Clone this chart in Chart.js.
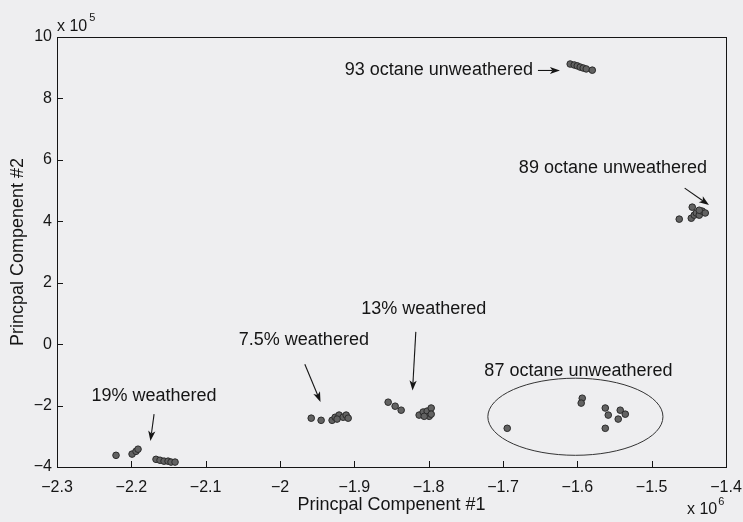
<!DOCTYPE html>
<html>
<head>
<meta charset="utf-8">
<script src="https://cdn.jsdelivr.net/npm/chart.js@4/dist/chart.umd.min.js"></script>
<style>
  html, body { margin: 0; padding: 0; background: #eeeef0; }
  canvas { display: block; }
</style>
</head>
<body>
<canvas id="pca" width="743" height="522"></canvas>
<script>
// Principal component scores: PC1 in units of 1e6, PC2 in units of 1e5
const pc1Weathered19 = [-2.2206, -2.1990, -2.1937, -2.1910, -2.1668, -2.1614, -2.1560, -2.1506, -2.1466, -2.1412];
const pc2Weathered19 = [-3.62, -3.58, -3.49, -3.42, -3.75, -3.78, -3.81, -3.81, -3.84, -3.84];

const pc1Weathered75 = [-1.9580, -1.9447, -1.9299, -1.9258, -1.9205, -1.9151, -1.9110, -1.9083, -1.9232];
const pc2Weathered75 = [-2.41, -2.48, -2.48, -2.38, -2.31, -2.38, -2.31, -2.41, -2.44];

const pc1Weathered13 = [-1.8545, -1.8451, -1.8370, -1.8128, -1.8074, -1.8020, -1.7966, -1.7993, -1.8060, -1.7966];
const pc2Weathered13 = [-1.89, -2.02, -2.15, -2.31, -2.21, -2.18, -2.08, -2.35, -2.35, -2.28];

const pc1Octane87 = [-1.6943, -1.5934, -1.5948, -1.5624, -1.5584, -1.5423, -1.5355, -1.5450, -1.5624];
const pc2Octane87 = [-2.74, -1.76, -1.92, -2.08, -2.31, -2.15, -2.28, -2.44, -2.74];

const pc1Octane93 = [-1.6096, -1.6042, -1.6001, -1.5961, -1.5921, -1.5880, -1.5799];
const pc2Octane93 = [9.12, 9.09, 9.06, 9.02, 8.99, 8.96, 8.92];

const pc1Octane89 = [-1.4454, -1.4629, -1.4467, -1.4427, -1.4400, -1.4360, -1.4320, -1.4279, -1.4360];
const pc2Octane89 = [4.46, 4.07, 4.10, 4.20, 4.27, 4.20, 4.33, 4.27, 4.36];

// Axis ticks
const xTickValues = [-2.3, -2.2, -2.1, -2.0, -1.9, -1.8, -1.7, -1.6, -1.5, -1.4];
const xTickLabels = ['\u22122.3', '\u22122.2', '\u22122.1', '\u22122', '\u22121.9', '\u22121.8', '\u22121.7', '\u22121.6', '\u22121.5', '\u22121.4'];
const yTickValues = [-4, -2, 0, 2, 4, 6, 8, 10];
const yTickLabels = ['\u22124', '\u22122', '0', '2', '4', '6', '8', '10'];

// Group callouts (data coordinates)
const callouts = [
  { text: '93 octane unweathered', x: -1.7863, y: 8.93, from: [-1.6530, 8.91], to: [-1.6234, 8.91] },
  { text: '89 octane unweathered', x: -1.5521, y: 5.74, from: [-1.4556, 5.08], to: [-1.4229, 4.53] },
  { text: '13% weathered', x: -1.8065, y: 1.14, from: [-1.8173, 0.40], to: [-1.8217, -1.51] },
  { text: '7.5% weathered', x: -1.9679, y: 0.13, from: [-1.9666, -0.655], to: [-1.9455, -1.88] },
  { text: '19% weathered', x: -2.1694, y: -1.70, from: [-2.1694, -2.28], to: [-2.1743, -3.15] },
  { text: '87 octane unweathered', x: -1.5985, y: -0.88 }
];
const octane87Ring = { cx: -1.6026, cy: -2.364, rx: 0.1178, ry: 1.255 };

const zip = (xs, ys) => xs.map((x, i) => ({ x, y: ys[i] }));

const markerStyle = {
  pointRadius: 3.3,
  pointHoverRadius: 3.3,
  pointBackgroundColor: '#626262',
  pointBorderColor: '#2a2a2a',
  pointBorderWidth: 1,
  showLine: false
};

const datasets = [
  { label: '19% weathered', data: zip(pc1Weathered19, pc2Weathered19) },
  { label: '7.5% weathered', data: zip(pc1Weathered75, pc2Weathered75) },
  { label: '13% weathered', data: zip(pc1Weathered13, pc2Weathered13) },
  { label: '87 octane unweathered', data: zip(pc1Octane87, pc2Octane87) },
  { label: '93 octane unweathered', data: zip(pc1Octane93, pc2Octane93) },
  { label: '89 octane unweathered', data: zip(pc1Octane89, pc2Octane89) }
].map(d => Object.assign(d, markerStyle));

const INK = '#151515';
const FONT = '"Liberation Sans", Arial, Helvetica, sans-serif';

function arrow(ctx, x1, y1, x2, y2) {
  const ang = Math.atan2(y2 - y1, x2 - x1);
  const len = 10, half = 3.6, back = 7.5;
  ctx.beginPath();
  ctx.moveTo(x1, y1);
  ctx.lineTo(x2 - Math.cos(ang) * back, y2 - Math.sin(ang) * back);
  ctx.stroke();
  const bx = x2 - Math.cos(ang) * len, by = y2 - Math.sin(ang) * len;
  const nx = -Math.sin(ang), ny = Math.cos(ang);
  ctx.beginPath();
  ctx.moveTo(x2, y2);
  ctx.lineTo(bx + nx * half, by + ny * half);
  ctx.lineTo(x2 - Math.cos(ang) * back, y2 - Math.sin(ang) * back);
  ctx.lineTo(bx - nx * half, by - ny * half);
  ctx.closePath();
  ctx.fill();
}

// Axes box, inward tick marks, exponent labels and callouts
const framePlugin = {
  id: 'frame',
  beforeDatasetsDraw(chart) {
    const { ctx, chartArea: a, scales: { x, y } } = chart;
    ctx.save();
    ctx.strokeStyle = INK;
    ctx.lineWidth = 1;
    ctx.strokeRect(Math.round(a.left) + 0.5, Math.round(a.top) + 0.5,
                   Math.round(a.right - a.left), Math.round(a.bottom - a.top));
    const tl = 6;
    ctx.beginPath();
    xTickValues.forEach(v => {
      const px = Math.round(x.getPixelForValue(v)) + 0.5;
      ctx.moveTo(px, a.bottom); ctx.lineTo(px, a.bottom - tl);
    });
    yTickValues.forEach(v => {
      const py = Math.round(y.getPixelForValue(v)) + 0.5;
      ctx.moveTo(a.left, py); ctx.lineTo(a.left + tl, py);
    });
    ctx.stroke();

    // ring around the 87 octane group
    const cx = x.getPixelForValue(octane87Ring.cx);
    const cy = y.getPixelForValue(octane87Ring.cy);
    const rx = x.getPixelForValue(octane87Ring.cx + octane87Ring.rx) - cx;
    const ry = cy - y.getPixelForValue(octane87Ring.cy + octane87Ring.ry);
    ctx.beginPath();
    ctx.ellipse(cx, cy, rx, ry, 0, 0, Math.PI * 2);
    ctx.strokeStyle = '#333';
    ctx.stroke();
    ctx.restore();
  },
  afterDraw(chart) {
    const { ctx, chartArea: a, scales: { x, y } } = chart;
    ctx.save();
    ctx.fillStyle = INK;
    ctx.strokeStyle = INK;
    ctx.lineWidth = 1.1;

    // axis multipliers
    ctx.textBaseline = 'middle';
    ctx.textAlign = 'left';
    ctx.font = '16px ' + FONT;
    ctx.fillText('x 10', a.left, a.top - 10);
    let w = ctx.measureText('x 10').width;
    ctx.font = '11px ' + FONT;
    ctx.fillText('5', a.left + w + 2, a.top - 19);
    ctx.font = '16px ' + FONT;
    ctx.fillText('x 10', a.right - 39, a.bottom + 43);
    w = ctx.measureText('x 10').width;
    ctx.font = '11px ' + FONT;
    ctx.fillText('6', a.right - 39 + w + 1, a.bottom + 35);

    // callouts
    ctx.font = '18px ' + FONT;
    ctx.textAlign = 'center';
    callouts.forEach(c => {
      ctx.fillText(c.text, x.getPixelForValue(c.x), y.getPixelForValue(c.y));
      if (c.from) {
        arrow(ctx, x.getPixelForValue(c.from[0]), y.getPixelForValue(c.from[1]),
                   x.getPixelForValue(c.to[0]), y.getPixelForValue(c.to[1]));
      }
    });
    ctx.restore();
  }
};

new Chart(document.getElementById('pca'), {
  type: 'scatter',
  data: { datasets },
  options: {
    responsive: false,
    animation: false,
    events: [],
    layout: { padding: { left: 0, right: 17, top: 37, bottom: 0 } },
    plugins: { legend: { display: false }, tooltip: { enabled: false } },
    scales: {
      x: {
        type: 'linear',
        min: -2.3,
        max: -1.4,
        afterBuildTicks: s => { s.ticks = xTickValues.map(v => ({ value: v })); },
        afterFit: s => { s.height = 55; s.paddingLeft = 0; s.paddingRight = 0; },
        grid: { display: false, drawTicks: false },
        border: { display: false },
        ticks: {
          color: INK,
          font: { family: FONT, size: 16 },
          padding: 11,
          maxRotation: 0,
          autoSkip: false,
          callback: (v, i) => xTickLabels[i]
        },
        title: {
          display: true,
          text: 'Princpal Compenent #1',
          color: INK,
          font: { family: FONT, size: 18 },
          padding: { top: 0, bottom: 6 }
        }
      },
      y: {
        type: 'linear',
        min: -4,
        max: 10,
        afterBuildTicks: s => { s.ticks = yTickValues.map(v => ({ value: v })); },
        afterFit: s => { s.width = 57; s.paddingTop = 0; s.paddingBottom = 0; },
        grid: { display: false, drawTicks: false },
        border: { display: false },
        ticks: {
          color: INK,
          font: { family: FONT, size: 16 },
          padding: 5,
          autoSkip: false,
          callback: (v, i) => yTickLabels[i]
        },
        title: {
          display: true,
          text: 'Princpal Compenent #2',
          color: INK,
          font: { family: FONT, size: 18 },
          padding: { top: 7, bottom: 0 }
        }
      }
    }
  },
  plugins: [framePlugin]
});
</script>
</body>
</html>
